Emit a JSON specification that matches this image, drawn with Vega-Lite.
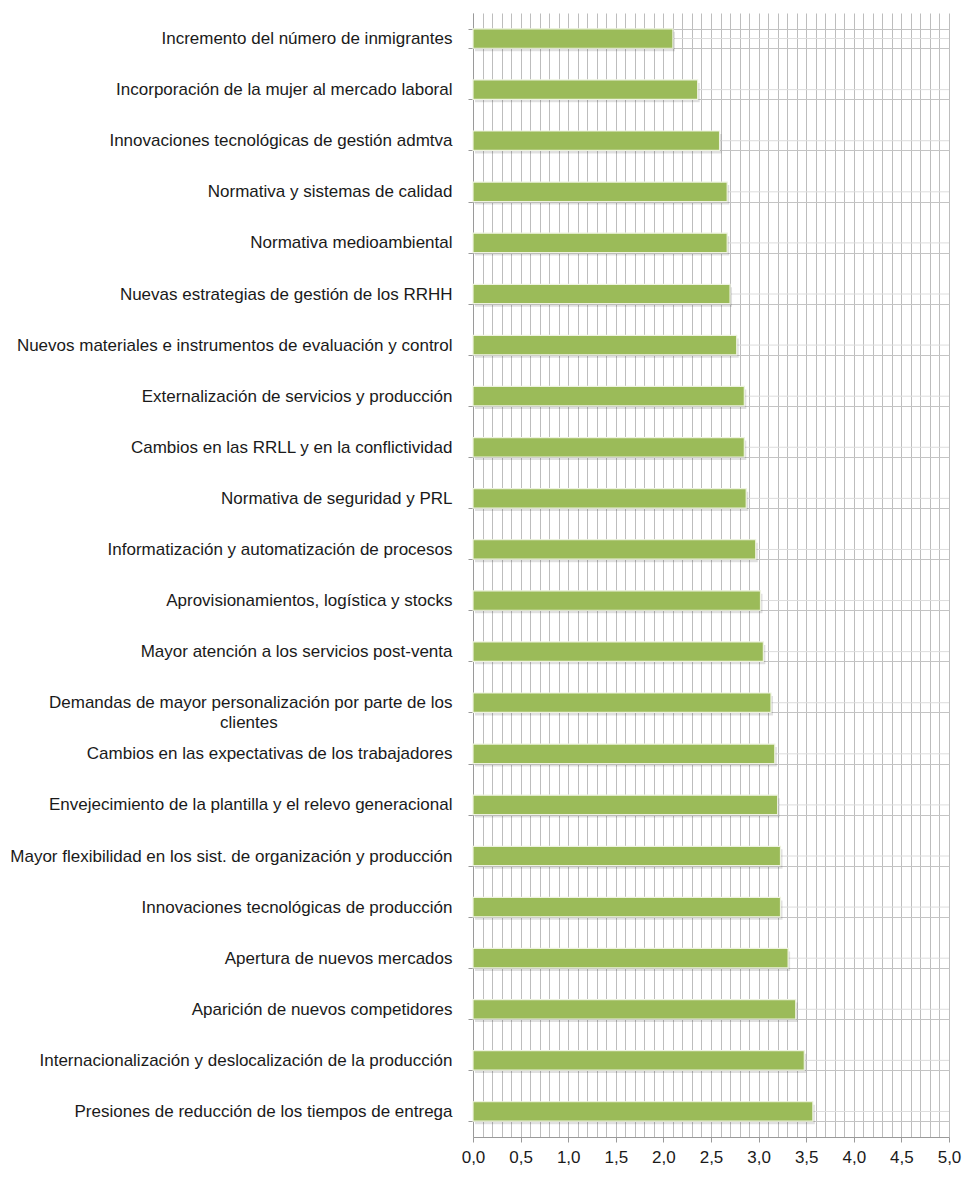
{
  "$schema": "https://vega.github.io/schema/vega-lite/v6.json",
  "width": 476,
  "height": 1124,
  "autosize": {"type": "none"},
  "padding": {"left": 473, "top": 13, "right": 13, "bottom": 43},
  "background": "white",
  "config": {"view": {"stroke": null}},
  "data": {
    "values": [
      {"factor": "Incremento del número de inmigrantes", "valor": 2.10},
      {"factor": "Incorporación de la mujer al mercado laboral", "valor": 2.36},
      {"factor": "Innovaciones tecnológicas de gestión admtva", "valor": 2.59},
      {"factor": "Normativa y sistemas de calidad", "valor": 2.67},
      {"factor": "Normativa medioambiental", "valor": 2.67},
      {"factor": "Nuevas estrategias de gestión de los RRHH", "valor": 2.70},
      {"factor": "Nuevos materiales e instrumentos de evaluación y control", "valor": 2.77},
      {"factor": "Externalización de servicios y producción", "valor": 2.85},
      {"factor": "Cambios en las RRLL y en la conflictividad", "valor": 2.85},
      {"factor": "Normativa de seguridad y PRL", "valor": 2.87},
      {"factor": "Informatización y automatización de procesos", "valor": 2.97},
      {"factor": "Aprovisionamientos, logística y stocks", "valor": 3.02},
      {"factor": "Mayor atención a los servicios post-venta", "valor": 3.05},
      {"factor": "Demandas de mayor personalización por parte de los clientes", "valor": 3.13},
      {"factor": "Cambios en las expectativas de los trabajadores", "valor": 3.17},
      {"factor": "Envejecimiento de la plantilla y el relevo generacional", "valor": 3.20},
      {"factor": "Mayor flexibilidad en los sist. de organización y producción", "valor": 3.23},
      {"factor": "Innovaciones tecnológicas de producción", "valor": 3.23},
      {"factor": "Apertura de nuevos mercados", "valor": 3.31},
      {"factor": "Aparición de nuevos competidores", "valor": 3.39},
      {"factor": "Internacionalización y deslocalización de la producción", "valor": 3.48},
      {"factor": "Presiones de reducción de los tiempos de entrega", "valor": 3.57}
    ]
  },
  "encoding": {
    "y": {
      "field": "factor",
      "type": "nominal",
      "sort": null,
      "scale": {"paddingInner": 0.62, "paddingOuter": 0.31},
      "axis": {
        "title": null,
        "tickBand": "extent",
        "grid": true,
        "gridColor": "#c4c4c4",
        "domainColor": "#9a9a9a",
        "tickColor": "#9a9a9a",
        "tickSize": 5,
        "labelPadding": 16,
        "labelFontSize": 17,
        "labelFont": "Liberation Sans",
        "labelColor": "#1a1a1a",
        "labelLimit": 470,
        "labelLineHeight": 20,
        "labelExpr": "datum.value == 'Demandas de mayor personalización por parte de los clientes' ? ['Demandas de mayor personalización por parte de los', 'clientes\u00a0\u00a0\u00a0\u00a0\u00a0\u00a0\u00a0\u00a0\u00a0\u00a0\u00a0\u00a0\u00a0\u00a0\u00a0\u00a0\u00a0\u00a0\u00a0\u00a0\u00a0\u00a0\u00a0\u00a0\u00a0\u00a0\u00a0\u00a0\u00a0\u00a0\u00a0\u00a0\u00a0\u00a0\u00a0\u00a0\u00a0\u200b'] : datum.value"
      }
    },
    "x": {
      "field": "valor",
      "type": "quantitative",
      "scale": {"domain": [0, 5], "nice": false},
      "axis": {
        "title": null,
        "values": [0,0.1,0.2,0.3,0.4,0.5,0.6,0.7,0.8,0.9,1,1.1,1.2,1.3,1.4,1.5,1.6,1.7,1.8,1.9,2,2.1,2.2,2.3,2.4,2.5,2.6,2.7,2.8,2.9,3,3.1,3.2,3.3,3.4,3.5,3.6,3.7,3.8,3.9,4,4.1,4.2,4.3,4.4,4.5,4.6,4.7,4.8,4.9,5],
        "grid": true,
        "gridColor": "#bdbdbd",
        "domainColor": "#9a9a9a",
        "tickColor": {"condition": {"test": "abs(datum.value*2 - round(datum.value*2)) < 0.001", "value": "#9a9a9a"}, "value": "transparent"},
        "tickSize": 5,
        "labelPadding": 7,
        "labelFontSize": 17,
        "labelFont": "Liberation Sans",
        "labelColor": "#1a1a1a",
        "labelOverlap": false,
        "labelFlush": false,
        "labelExpr": "abs(datum.value*2 - round(datum.value*2)) < 0.001 ? replace(format(datum.value, '.1f'), '.', ',') : ''"
      }
    }
  },
  "layer": [
    {
      "mark": {"type": "rule", "color": "#dcdcdc", "strokeWidth": 1},
      "encoding": {
        "x": {
          "datum": 0,
          "type": "quantitative",
          "scale": {"domain": [0, 5], "nice": false},
          "axis": {
            "title": null,
            "values": [0,0.1,0.2,0.3,0.4,0.5,0.6,0.7,0.8,0.9,1,1.1,1.2,1.3,1.4,1.5,1.6,1.7,1.8,1.9,2,2.1,2.2,2.3,2.4,2.5,2.6,2.7,2.8,2.9,3,3.1,3.2,3.3,3.4,3.5,3.6,3.7,3.8,3.9,4,4.1,4.2,4.3,4.4,4.5,4.6,4.7,4.8,4.9,5],
            "grid": true,
            "gridColor": "#bdbdbd",
            "domainColor": "#9a9a9a",
            "tickColor": {"condition": {"test": "abs(datum.value*2 - round(datum.value*2)) < 0.001", "value": "#9a9a9a"}, "value": "transparent"},
            "tickSize": 5,
            "labelPadding": 7,
            "labelFontSize": 17,
            "labelFont": "Liberation Sans",
            "labelColor": "#1a1a1a",
            "labelOverlap": false,
            "labelFlush": false,
            "labelExpr": "abs(datum.value*2 - round(datum.value*2)) < 0.001 ? replace(format(datum.value, '.1f'), '.', ',') : ''"
          }
        },
        "x2": {"datum": 5}
      }
    },
    {
      "mark": {"type": "bar", "color": "#000000", "opacity": 0.12, "xOffset": 2, "yOffset": 3}
    },
    {
      "mark": {"type": "bar", "color": "#9bbb59", "stroke": "#eef3e0", "strokeWidth": 1.2}
    }
  ]
}
